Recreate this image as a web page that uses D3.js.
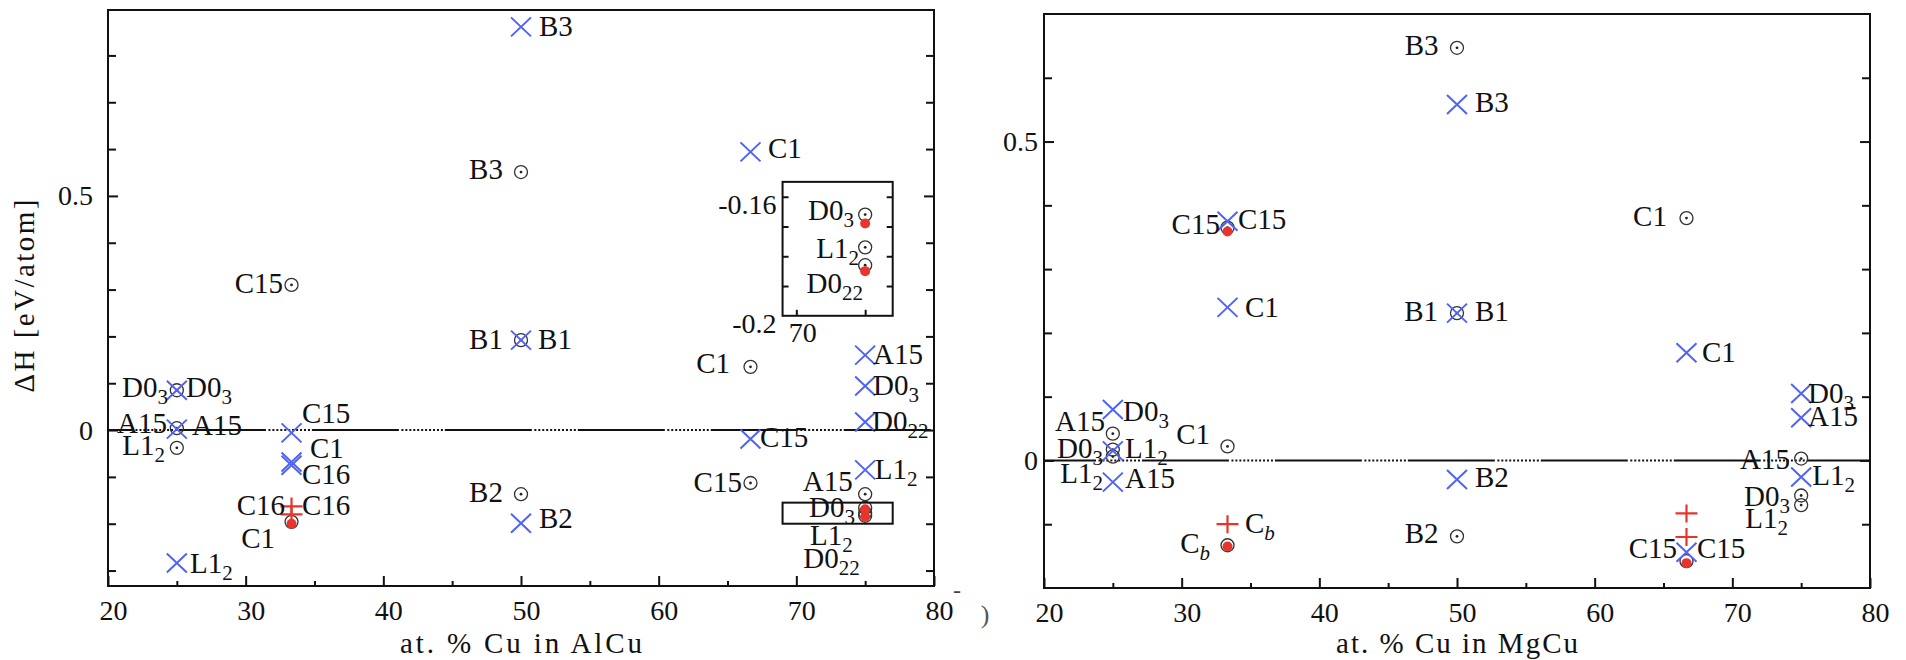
<!DOCTYPE html>
<html>
<head>
<meta charset="utf-8">
<script src="https://cdn.jsdelivr.net/npm/d3@7"></script>
<style>
body { margin: 0; background: #fff; }
#chart, #chart text { font-family: 'Liberation Serif', 'DejaVu Serif', serif; }
</style>
</head>
<body>
<svg id="chart" width="1906" height="660"></svg>
<script>
// ---- AlCu panel (left) ----
var alcuCross = [[50,0.861],[66.67,0.594],[50,0.192],[75,0.160],[75,0.094],[75,0.017],[66.67,-0.019],
    [75,-0.085],[50,-0.199],[25,0.085],[25,0.002],[25,-0.284],[33.33,-0.006],[33.33,-0.068],[33.33,-0.075]];
var alcuCircle = [[50,0.551],[33.33,0.310],[50,0.192],[66.67,0.135],[66.67,-0.113],[75,-0.137],[50,-0.137],
    [75,-0.166],[75,-0.177],[75,-0.183],[25,0.085],[25,0.004],[25,-0.038],[33.33,-0.196]];
var alcuPlus = [[33.33,-0.163],[33.33,-0.180]];
var alcuDot = [[75,-0.169],[75,-0.185],[33.33,-0.200]];
// [text, x, y, anchor] - "s" = text starts at x, "e" = text ends at x
var alcuLabels = [
    ["B3",51.31,0.863,"s"],["B3",48.69,0.558,"e"],["C1",67.94,0.603,"s"],["C15",32.71,0.314,"e"],
    ["B1",48.69,0.194,"e"],["B1",51.24,0.194,"s"],["C1",65.18,0.143,"e"],
    ["A15",75.57,0.162,"s"],["D0_3",75.57,0.096,"s"],["D0_22",75.5,0.019,"s"],["C15",67.36,-0.015,"s"],
    ["L1_2",75.7,-0.083,"s"],["C15",66.05,-0.111,"e"],["A15",74.1,-0.109,"e"],["B2",48.69,-0.132,"e"],
    ["B2",51.31,-0.188,"s"],["D0_3",74.26,-0.165,"e"],["L1_2",74.1,-0.224,"e"],["D0_22",74.6,-0.274,"e"],
    ["D0_3",24.36,0.092,"e"],["D0_3",25.67,0.092,"s"],["A15",24.29,0.015,"e"],["A15",26.1,0.011,"s"],
    ["L1_2",24.14,-0.032,"e"],["L1_2",25.96,-0.284,"s"],
    ["C15",34.09,0.036,"s"],["C1",34.67,-0.038,"s"],["C16",34.09,-0.094,"s"],
    ["C16",32.86,-0.160,"e"],["C16",34.09,-0.160,"s"],["C1",32.13,-0.231,"e"]
];
var alcuYDomain = [-0.333, 0.897];
var alcuYMajor = [0, 0.5];
var alcuYMinor = [-0.3,-0.2,-0.1,0.1,0.2,0.3,0.4,0.6,0.7,0.8];

// zoomed inset of the 75 % cluster
var insetXDomain = [69, 77];
var insetYDomain = [-0.2, -0.155];
var insetPlaceY = [0.244, 0.530];   // where the inset sits, in main-plot units
var insetYTicks = [-0.19,-0.18,-0.17,-0.16];
var insetYLabels = [-0.2, -0.16];
var insetXTicks = [70, 75];
var insetXLabels = [70];
var insetCircle = [[75,-0.166],[75,-0.177],[75,-0.183]];
var insetDot = [[75,-0.169],[75,-0.185]];
var insetLabels = [["D0_3",74.19,-0.1644,"e"],["L1_2",74.55,-0.1772,"e"],["D0_22",74.84,-0.1889,"e"]];

// ---- MgCu panel (right) ----
var mgcuCross = [[50,0.558],[50,0.231],[33.33,0.375],[33.33,0.24],[66.67,0.169],[75,0.105],[75,0.067],
    [75,-0.026],[50,-0.030],[66.67,-0.144],[25,0.080],[25,0.015],[25,-0.034]];
var mgcuCircle = [[50,0.647],[66.67,0.380],[50,0.231],[33.33,0.365],[75,0.003],[75,-0.055],[75,-0.07],
    [50,-0.119],[66.67,-0.158],[25,0.042],[25,0.017],[25,0.006],[33.33,0.022],[33.33,-0.133]];
var mgcuPlus = [[66.67,-0.083],[66.67,-0.12],[33.33,-0.1]];
var mgcuDot = [[33.33,0.359],[66.67,-0.161],[33.33,-0.135]];
var mgcuLabels = [
    ["B3",48.66,0.652,"e"],["B3",51.31,0.5625,"s"],["C1",65.25,0.383,"e"],
    ["B1",48.62,0.234,"e"],["B1",51.31,0.234,"s"],["C15",32.78,0.370,"e"],["C15",34.09,0.378,"s"],
    ["C1",34.6,0.24,"s"],["C1",67.8,0.170,"s"],["D0_3",75.5,0.106,"s"],["A15",75.5,0.069,"s"],
    ["A15",74.19,0.003,"e"],["L1_2",75.8,-0.023,"s"],["D0_3",74.19,-0.055,"e"],["L1_2",74.04,-0.091,"e"],
    ["B2",51.31,-0.026,"s"],["B2",48.66,-0.114,"e"],["C15",65.98,-0.1375,"e"],["C15",67.43,-0.1375,"s"],
    ["D0_3",25.74,0.078,"s"],["A15",24.43,0.0625,"e"],["D0_3",24.29,0.020,"e"],["L1_2",25.88,0.020,"s"],
    ["L1_2",24.29,-0.019,"e"],["A15",25.88,-0.028,"s"],["C1",32.06,0.042,"e"],
    ["C_b",34.6,-0.098,"s"],["C_b",32.06,-0.130,"e"]
];
var mgcuYDomain = [-0.2, 0.7];
var mgcuYMajor = [0, 0.5];
var mgcuYMinor = [-0.1,0.1,0.2,0.3,0.4,0.6];

var xDomain = [20, 80];
var xMajor = [20,30,40,50,60,70,80];
var xMinor = [25,35,45,55,65,75];

var BLUE = "#4f63f7", RED = "#e8352b", INK = "#111";
var FONT = "'Liberation Serif', 'DejaVu Serif', serif";
var svg = d3.select("#chart");

// plain hyphen-minus like the original TeX labels
var numFmt = function(d) { return String(d); };

function styleLabels(s, dx, dy) {
    s.attr("font-family", null).attr("font-size", null);
    s.select(".domain").remove();
    s.selectAll("text").attr("fill", INK).style("font-size", "28px").style("font-family", FONT);
    if (dx) s.selectAll("text").attr("dx", dx);
    if (dy) s.selectAll("text").attr("dy", dy);
}

function addLabel(g, px, py, txt, anchor) {
    var parts = txt.split("_");
    var t = g.append("text")
        .attr("x", px).attr("y", py + 10)
        .attr("text-anchor", anchor == "e" ? "end" : "start")
        .attr("fill", INK)
        .style("font-family", FONT)
        .style("font-size", "29px");
    t.append("tspan").text(parts[0]);
    if (parts[1]) {
        var s = t.append("tspan").attr("dy", 7).style("font-size", "21px").text(parts[1]);
        if (parts[1] == "b") s.style("font-style", "italic");
    }
}

function drawMarks(g, xs, ys, circ, dots, cross, plus) {
    g.selectAll(null).data(circ).enter().append("circle")
        .attr("cx", function(d) { return xs(d[0]); }).attr("cy", function(d) { return ys(d[1]); })
        .attr("r", 6.5).attr("fill", "none").attr("stroke", "#333").attr("stroke-width", 1.3);
    g.selectAll(null).data(circ).enter().append("circle")
        .attr("cx", function(d) { return xs(d[0]); }).attr("cy", function(d) { return ys(d[1]); })
        .attr("r", 1.4).attr("fill", "#222");
    g.selectAll(null).data(dots).enter().append("circle")
        .attr("cx", function(d) { return xs(d[0]); }).attr("cy", function(d) { return ys(d[1]); })
        .attr("r", 5).attr("fill", RED);
    g.selectAll(null).data(cross).enter().append("path")
        .attr("transform", function(d) { return "translate(" + xs(d[0]) + "," + ys(d[1]) + ")"; })
        .attr("d", "M-10,-9.5L10,9.5M-10,9.5L10,-9.5")
        .attr("stroke", BLUE).attr("stroke-width", 2).attr("fill", "none");
    g.selectAll(null).data(plus).enter().append("path")
        .attr("transform", function(d) { return "translate(" + xs(d[0]) + "," + ys(d[1]) + ")"; })
        .attr("d", "M-11,0L11,0M0,-9L0,9")
        .attr("stroke", RED).attr("stroke-width", 2.2).attr("fill", "none");
}

function zeroDash() {
    var a = [87, 2.5];
    for (var i = 0; i < 11; i++) a.push(2, 1.95);
    return a.join(",");
}

function drawPanel(p) {
    var xs = d3.scaleLinear().domain(xDomain).range([p.left, p.right]);
    var ys = d3.scaleLinear().domain(p.yDomain).range([p.bottom, p.top]);
    var g = svg.append("g");
    var w = p.right - p.left;

    // zero line, solid with dotted stretches
    g.append("line")
        .attr("x1", xs(20)).attr("x2", xs(80)).attr("y1", ys(0)).attr("y2", ys(0))
        .attr("stroke", INK).attr("stroke-width", 2)
        .attr("stroke-dasharray", zeroDash()).attr("stroke-dashoffset", p.dashOffset);

    // ticks
    function tickAxis(axis, vals, size, tr) {
        g.append("g").attr("transform", tr)
            .call(axis.tickValues(vals).tickSize(-size).tickFormat(""))
            .call(function(s) { s.select(".domain").remove(); s.selectAll("line").attr("stroke", INK).attr("stroke-width", 2); });
    }
    tickAxis(d3.axisLeft(ys), p.yMajor, 10, "translate(" + p.left + ",0)");
    tickAxis(d3.axisLeft(ys), p.yMinor, 8, "translate(" + p.left + ",0)");
    tickAxis(d3.axisRight(ys), p.yMajor, 10, "translate(" + p.right + ",0)");
    tickAxis(d3.axisRight(ys), p.yMinor, 8, "translate(" + p.right + ",0)");
    tickAxis(d3.axisBottom(xs), xMajor, 10, "translate(0," + p.bottom + ")");
    tickAxis(d3.axisBottom(xs), xMinor, 5, "translate(0," + p.bottom + ")");

    // tick labels
    g.append("g").attr("transform", "translate(" + p.left + ",0)")
        .call(d3.axisLeft(ys).tickValues(p.yMajor).tickSize(0).tickPadding(p.yPad).tickFormat(numFmt))
        .call(function(s) { styleLabels(s); });
    g.append("g").attr("transform", "translate(0," + p.bottom + ")")
        .call(d3.axisBottom(xs).tickValues(xMajor).tickSize(0).tickPadding(14).tickFormat(numFmt))
        .call(function(s) { styleLabels(s, 5); });

    // frame
    g.append("rect").attr("x", p.left).attr("y", p.top).attr("width", w).attr("height", p.bottom - p.top)
        .attr("fill", "none").attr("stroke", INK).attr("stroke-width", 2);

    // x title
    g.append("text").attr("x", (p.left + p.right) / 2).attr("y", 653)
        .attr("text-anchor", "middle").attr("fill", INK)
        .style("font-family", FONT).style("font-size", "29px")
        .attr("textLength", 242).attr("lengthAdjust", "spacing").text(p.xTitle);

    drawMarks(g, xs, ys, p.circ, p.dots, p.cross, p.plus);
    p.labels.forEach(function(l) { addLabel(g, xs(l[1]), ys(l[2]), l[0], l[3]); });
    return { g: g, xs: xs, ys: ys };
}

var left = drawPanel({
    left: 108, right: 934, top: 10, bottom: 586, yDomain: alcuYDomain,
    yMajor: alcuYMajor, yMinor: alcuYMinor, yPad: 15, dashOffset: 62,
    xTitle: "at. % Cu in AlCu",
    circ: alcuCircle, dots: alcuDot, cross: alcuCross, plus: alcuPlus, labels: alcuLabels
});
var right = drawPanel({
    left: 1044, right: 1870, top: 14, bottom: 588, yDomain: mgcuYDomain,
    yMajor: mgcuYMajor, yMinor: mgcuYMinor, yPad: 6, dashOffset: 35,
    xTitle: "at. % Cu in MgCu",
    circ: mgcuCircle, dots: mgcuDot, cross: mgcuCross, plus: mgcuPlus, labels: mgcuLabels
});

// y title
svg.append("text").attr("transform", "translate(34,296) rotate(-90)")
    .attr("text-anchor", "middle").attr("fill", INK)
    .style("font-family", FONT).style("font-size", "29px")
    .attr("textLength", 193).attr("lengthAdjust", "spacing").text("\u0394H [eV/atom]");

// small box marking the inset region
var L = left;
L.g.append("rect")
    .attr("x", L.xs(insetXDomain[0])).attr("y", L.ys(insetYDomain[1]))
    .attr("width", L.xs(insetXDomain[1]) - L.xs(insetXDomain[0]))
    .attr("height", L.ys(insetYDomain[0]) - L.ys(insetYDomain[1]))
    .attr("fill", "none").attr("stroke", INK).attr("stroke-width", 2);

// inset
(function() {
    var x0 = L.xs(insetXDomain[0]), x1 = L.xs(insetXDomain[1]);
    var y0 = L.ys(insetPlaceY[0]), y1 = L.ys(insetPlaceY[1]);
    var ix = d3.scaleLinear().domain(insetXDomain).range([x0, x1]);
    var iy = d3.scaleLinear().domain(insetYDomain).range([y0, y1]);
    var g = L.g.append("g");
    g.append("rect").attr("x", x0).attr("y", y1).attr("width", x1 - x0).attr("height", y0 - y1)
        .attr("fill", "#fff").attr("stroke", INK).attr("stroke-width", 2);
    function t(axis, vals, tr) {
        g.append("g").attr("transform", tr)
            .call(axis.tickValues(vals).tickSize(-6).tickFormat(""))
            .call(function(s) { s.select(".domain").remove(); s.selectAll("line").attr("stroke", INK).attr("stroke-width", 2); });
    }
    t(d3.axisLeft(iy), insetYTicks, "translate(" + x0 + ",0)");
    t(d3.axisRight(iy), insetYTicks, "translate(" + x1 + ",0)");
    t(d3.axisBottom(ix), insetXTicks, "translate(0," + y0 + ")");
    g.append("g").attr("transform", "translate(" + x0 + ",0)")
        .call(d3.axisLeft(iy).tickValues(insetYLabels).tickSize(0).tickPadding(6).tickFormat(numFmt))
        .call(function(s) { styleLabels(s, 0, "0.6em"); });
    g.append("g").attr("transform", "translate(0," + y0 + ")")
        .call(d3.axisBottom(ix).tickValues(insetXLabels).tickSize(0).tickPadding(6).tickFormat(numFmt))
        .call(function(s) { styleLabels(s, 6); });
    drawMarks(g, ix, iy, insetCircle, insetDot, [], []);
    insetLabels.forEach(function(l) { addLabel(g, ix(l[1]), iy(l[2]), l[0], l[3]); });
})();

// stray marks left over from the cropped source figure
svg.append("text").attr("x", 957).attr("y", 598).attr("text-anchor", "middle").attr("fill", "#444")
    .style("font-family", FONT).style("font-size", "24px").text("-");
svg.append("text").attr("x", 985).attr("y", 623).attr("text-anchor", "middle").attr("fill", "#555")
    .style("font-family", FONT).style("font-size", "26px").text(")");
</script>
</body>
</html>
